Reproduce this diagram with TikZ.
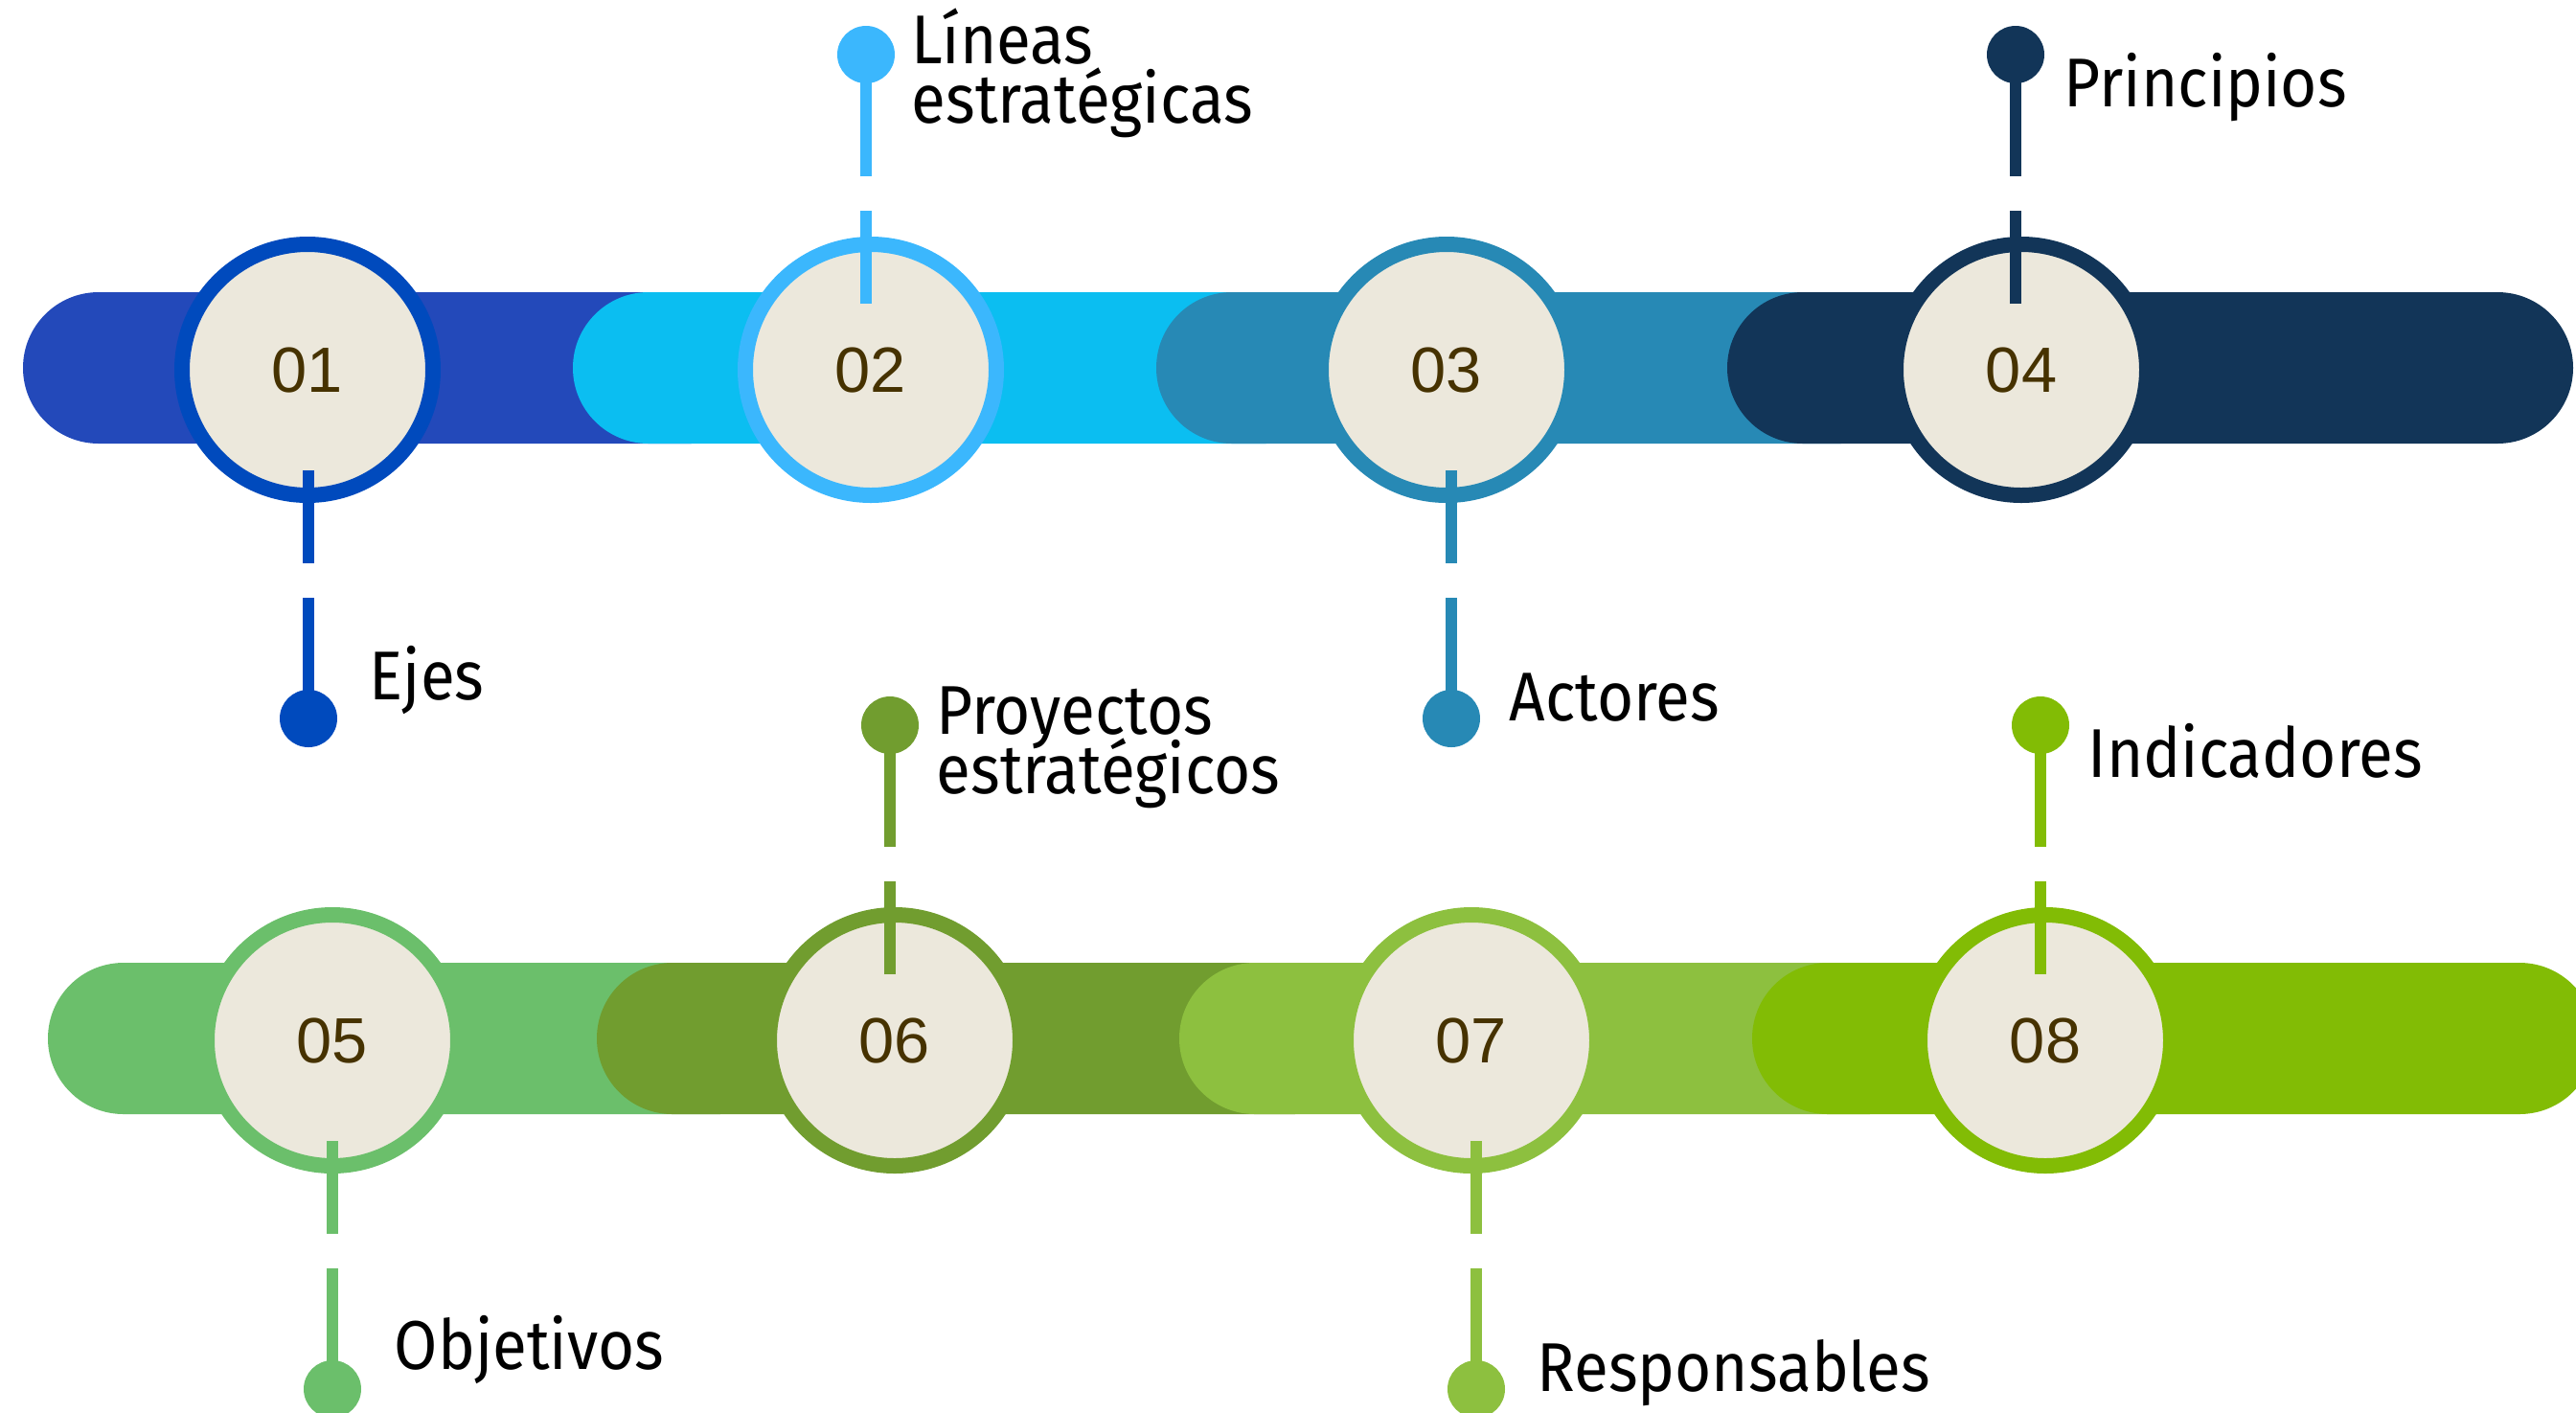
\documentclass[tikz,border=0pt]{standalone}
\usepackage{fontspec}
\setmainfont{Fira Sans}[FakeStretch=0.91]
\newfontfamily\numfont{Liberation Sans}
\newcommand{\labelfont}{\fontsize{20.5}{17.4}\selectfont\lineskiplimit=-30pt\relax}

\definecolor{bar1}{HTML}{2349BA}
\definecolor{ring1}{HTML}{004ABD}
\definecolor{bar2}{HTML}{0BBEF1}
\definecolor{ring2}{HTML}{3BB7FD}
\definecolor{ring3}{HTML}{2789B5}
\definecolor{ring4}{HTML}{123558}
\definecolor{ring5}{HTML}{6BBF6B}
\definecolor{ring6}{HTML}{719D2F}
\definecolor{ring7}{HTML}{8DC03F}
\definecolor{ring8}{HTML}{82BC05}
\definecolor{paper}{HTML}{ECE8DC}
\definecolor{numbrown}{HTML}{463200}

\begin{document}
\begin{tikzpicture}[x=1cm,y=1cm,
    bar/.style={rounded corners=0.79cm},
    numring/.style={circle, draw, line width=0.16cm, fill=paper, minimum size=2.62cm,
        inner sep=0pt, text=numbrown, font=\numfont\fontsize{19}{19}\selectfont},
    dotnode/.style={circle, fill, minimum size=0.6cm, inner sep=0pt},
    stemline/.style={line width=0.12cm, dash pattern=on 0.97cm off 0.36cm on 3cm},
    txt/.style={anchor=base west, inner sep=0pt, align=left, font=\labelfont}]

    \useasboundingbox (0,0) rectangle (26.89,-14.74);
    \clip (0,0) rectangle (26.89,-14.74);

    %%% TOP ROW

    % Bars
    \foreach \l/\r/\c in {0.24/8/bar1, 5.98/14/bar2, 12.07/20/ring3, 18.03/26.86/ring4} {
        \fill[bar, \c] (\l,-3.05) rectangle (\r,-4.63);
        };

    % Circles
    \node[numring, draw=ring1] (n1) at (3.21,-3.86) {01};
    \node[numring, draw=ring2] (n2) at (9.09,-3.86) {02};
    \node[numring, draw=ring3] (n3) at (15.10,-3.86) {03};
    \node[numring, draw=ring4] (n4) at (21.10,-3.86) {04};

    % Stems and dots
    \node[dotnode, ring1] (d1) at (3.22,-7.50) {};
    \node[dotnode, ring2] (d2) at (9.04,-0.57) {};
    \node[dotnode, ring3] (d3) at (15.15,-7.50) {};
    \node[dotnode, ring4] (d4) at (21.04,-0.57) {};
    \coordinate (s1) at (3.22,-4.91);
    \coordinate (s2) at (9.04,-3.17);
    \coordinate (s3) at (15.15,-4.91);
    \coordinate (s4) at (21.04,-3.17);
    \draw[stemline, ring1] (s1) -- (d1.center);
    \draw[stemline, ring2] (s2) -- (d2.center);
    \draw[stemline, ring3] (s3) -- (d3.center);
    \draw[stemline, ring4] (s4) -- (d4.center);

    % Labels (two-line ones sit on their last baseline)
    \node[txt] (t1) at (3.85,-7.30) {Ejes};
    \node[txt] (t2) at (9.51,-1.28) {Líneas\\estratégicas};
    \node[txt] (t3) at (15.75,-7.52) {Actores};
    \node[txt] (t4) at (21.54,-1.11) {Principios};

    %%% BOTTOM ROW

    % Bars
    \foreach \l/\r/\c in {0.50/8.3/ring5, 6.23/14.3/ring6, 12.31/20.3/ring7, 18.29/27.09/ring8} {
        \fill[bar, \c] (\l,-10.05) rectangle (\r,-11.63);
        };

    % Circles
    \node[numring, draw=ring5] (n5) at (3.47,-10.86) {05};
    \node[numring, draw=ring6] (n6) at (9.34,-10.86) {06};
    \node[numring, draw=ring7] (n7) at (15.36,-10.86) {07};
    \node[numring, draw=ring8] (n8) at (21.35,-10.86) {08};

    % Stems and dots
    \node[dotnode, ring5] (d5) at (3.47,-14.50) {};
    \node[dotnode, ring6] (d6) at (9.29,-7.57) {};
    \node[dotnode, ring7] (d7) at (15.41,-14.50) {};
    \node[dotnode, ring8] (d8) at (21.30,-7.57) {};
    \coordinate (s5) at (3.47,-11.91);
    \coordinate (s6) at (9.29,-10.17);
    \coordinate (s7) at (15.41,-11.91);
    \coordinate (s8) at (21.30,-10.17);
    \draw[stemline, ring5] (s5) -- (d5.center);
    \draw[stemline, ring6] (s6) -- (d6.center);
    \draw[stemline, ring7] (s7) -- (d7.center);
    \draw[stemline, ring8] (s8) -- (d8.center);

    % Labels
    \node[txt] (t5) at (4.11,-14.29) {Objetivos};
    \node[txt] (t6) at (9.77,-8.28) {Proyectos\\estratégicos};
    \node[txt] (t7) at (16.04,-14.52) {Responsables};
    \node[txt] (t8) at (21.79,-8.11) {Indicadores};

\end{tikzpicture}
\end{document}
